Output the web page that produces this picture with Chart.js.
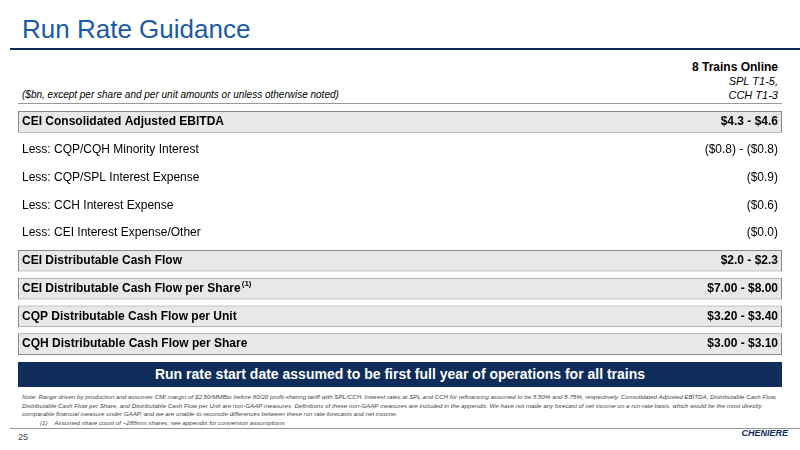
<!DOCTYPE html><html><head><meta charset="utf-8">
<script src="https://cdn.jsdelivr.net/npm/chart.js@4"></script>
<style>
body{margin:0;width:800px;height:450px;background:#fff;font-family:"Liberation Sans",Arial,sans-serif;position:relative;overflow:hidden}
.abs{position:absolute}
</style></head><body>
<div class="abs" style="left:22px;top:14px;font-size:26px;color:#1a5aa6">Run Rate Guidance</div>
<div class="abs" style="left:10px;top:48px;width:790px;height:2px;background:#0e2d5a"></div>
<div class="abs" style="right:22px;top:60px;font-size:12px;font-weight:bold;text-align:right">8 Trains Online</div>
<div class="abs" style="right:22px;top:74px;font-size:11px;font-style:italic;text-align:right;line-height:14px">SPL T1-5,<br>CCH T1-3</div>
<div class="abs" style="left:22px;top:89px;font-size:10px;font-style:italic">($bn, except per share and per unit amounts or unless otherwise noted)</div>
<div class="abs" style="left:18px;top:103px;width:764px;height:1px;background:#999"></div>
<div class="abs" style="left:18px;top:108px;width:764px;height:250px"><canvas id="c"></canvas></div>
<div class="abs" style="left:18px;top:362px;width:764px;height:25px;background:#0e2d5a;color:#fff;font-weight:bold;font-size:14px;text-align:center;line-height:25px">Run rate start date assumed to be first full year of operations for all trains</div>
<div class="abs" style="left:22px;top:393px;width:760px;font-size:6.2px;font-style:italic;color:#444;line-height:8.5px">Note: Range driven by production and assumes CMI margin of $2.50/MMBtu before 80/20 profit-sharing tariff with SPL/CCH. Interest rates at SPL and CCH for refinancing assumed to be 5.50% and 5.75%, respectively. Consolidated Adjusted EBITDA, Distributable Cash Flow, Distributable Cash Flow per Share, and Distributable Cash Flow per Unit are non-GAAP measures. Definitions of these non-GAAP measures are included in the appendix. We have not made any forecast of net income on a run-rate basis, which would be the most directly comparable financial measure under GAAP, and we are unable to reconcile differences between these run rate forecasts and net income.<br><span style="padding-left:18px">(1)&nbsp;&nbsp;&nbsp; Assumed share count of ~288mm shares; see appendix for conversion assumptions</span></div>
<div class="abs" style="left:10px;top:428px;width:790px;height:1px;background:#999"></div>
<div class="abs" style="left:18px;top:432px;font-size:9px;color:#444">25</div>
<div class="abs" style="right:12px;top:428px;font-size:9px;font-weight:bold;font-style:italic;color:#0e2d5a">CHENIERE</div>
<script>
const rowLabels=["CEI Consolidated Adjusted EBITDA","Less: CQP/CQH Minority Interest","Less: CQP/SPL Interest Expense","Less: CCH Interest Expense","Less: CEI Interest Expense/Other","CEI Distributable Cash Flow","CEI Distributable Cash Flow per Share","CQP Distributable Cash Flow per Unit","CQH Distributable Cash Flow per Share"];
const rowValues=["$4.3 - $4.6","($0.8) - ($0.8)","($0.9)","($0.6)","($0.0)","$2.0 - $2.3","$7.00 - $8.00","$3.20 - $3.40","$3.00 - $3.10"];
const boxed=[true,false,false,false,false,true,true,true,true];
const footnote=["","","","","","","(1)","",""];
const textPlugin={id:'txt',afterDatasetsDraw(ch){
 const c=ch.ctx,ys=ch.scales.y,a=ch.chartArea;
 rowLabels.forEach((l,i)=>{const y=ys.getPixelForValue(i);
  c.save();c.fillStyle='#000';c.textBaseline='middle';
  c.font=(boxed[i]?'bold 12px':'12px')+' "Liberation Sans",Arial';
  c.textAlign='left';c.fillText(l,a.left+4,y);
  if(footnote[i]){const w=c.measureText(l).width;c.font='bold 8px "Liberation Sans"';c.fillText(footnote[i],a.left+5+w,y-5);}
  c.font=(boxed[i]?'bold 12px':'12px')+' "Liberation Sans",Arial';
  c.textAlign='right';c.fillText(rowValues[i],a.right-4,y);c.restore();});
}};
new Chart(document.getElementById('c'),{type:'bar',
 data:{labels:rowLabels,datasets:[{data:boxed.map(b=>b?[0,1]:null),backgroundColor:'#e8e8e8',borderColor:'#8a8a8a',borderWidth:1,borderSkipped:false,barPercentage:0.78,categoryPercentage:1}]},
 options:{indexAxis:'y',responsive:true,maintainAspectRatio:false,animation:false,layout:{padding:0},
  plugins:{legend:{display:false},tooltip:{enabled:false}},
  scales:{x:{display:false,min:0,max:1},y:{display:false}}},
 plugins:[textPlugin]});
</script></body></html>
